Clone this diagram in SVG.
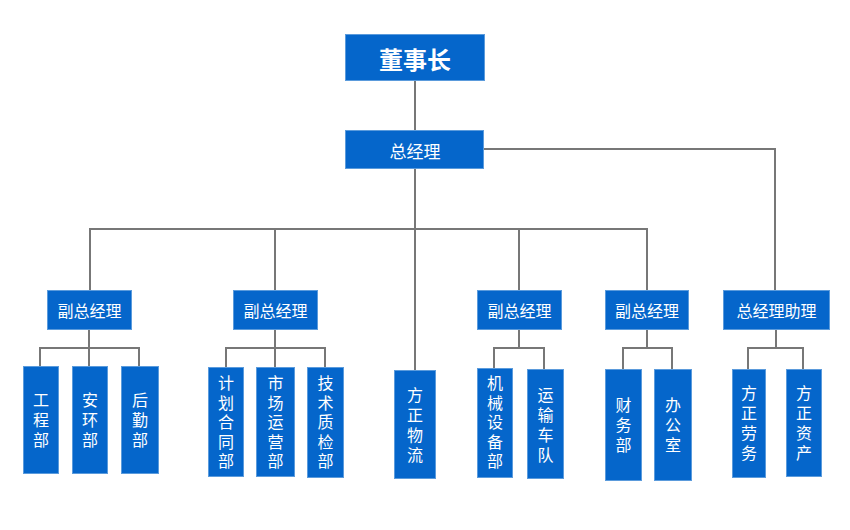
<svg xmlns="http://www.w3.org/2000/svg" width="850" height="530" viewBox="0 0 850 530">
<style>
.box{fill:#0566CB;stroke:#5B9BDC;stroke-width:1}
.t{fill:#fff;font-family:"Noto Sans CJK SC","Microsoft YaHei",sans-serif;text-anchor:middle;dominant-baseline:central}
.v{fill:#fff;font-family:"Noto Sans CJK SC","Microsoft YaHei",sans-serif;text-anchor:middle;font-size:16px;writing-mode:vertical-rl;text-orientation:upright;letter-spacing:4px}
.v5{letter-spacing:3.5px}
.c{fill:none;stroke:#777;stroke-width:2}
</style>
<rect width="850" height="530" fill="#fff"/>
<g id="connectors" class="c">
<path d="M415 80V130"/>
<path d="M415 168V370"/>
<path d="M483 149H775V290"/>
<path d="M90 290V229H647V290"/>
<path d="M275 229V290"/>
<path d="M519 229V290"/>
<path d="M89 329V348M40 366V348H139V366M89 348V366"/>
<path d="M275 329V348M226 367V348H325V367M275 348V367"/>
<path d="M519 329V348M494 368V348H544V369"/>
<path d="M647 329V348M623 369V348H672V369"/>
<path d="M776 329V348M748 369V348H803V369"/>
</g>
<g id="n-dsz"><rect class="box" x="345.500" y="34.500" width="139" height="46"/><text class="t" x="415" y="58" font-size="24" font-weight="bold">董事长</text></g>
<g id="n-zjl"><rect class="box" x="345.500" y="130.500" width="138" height="38"/><text class="t" x="415" y="150" font-size="17">总经理</text></g>
<g id="n-fz1"><rect class="box" x="47.500" y="290.500" width="84" height="39"/><text class="t" x="89.500" y="310" font-size="16">副总经理</text></g>
<g id="n-fz2"><rect class="box" x="233.500" y="290.500" width="84" height="39"/><text class="t" x="275.500" y="310" font-size="16">副总经理</text></g>
<g id="n-fz3"><rect class="box" x="477.500" y="290.500" width="84" height="39"/><text class="t" x="519.500" y="310" font-size="16">副总经理</text></g>
<g id="n-fz4"><rect class="box" x="605.500" y="290.500" width="83" height="39"/><text class="t" x="647" y="310" font-size="16">副总经理</text></g>
<g id="n-zl"><rect class="box" x="723.500" y="290.500" width="106" height="39"/><text class="t" x="776.500" y="310" font-size="16">总经理助理</text></g>
<g id="n-gcb"><rect class="box" x="23.500" y="366.500" width="35" height="107"/><text class="v" x="41" y="422">工程部</text></g>
<g id="n-ahb"><rect class="box" x="72.500" y="366.500" width="35" height="107"/><text class="v" x="90" y="422">安环部</text></g>
<g id="n-hqb"><rect class="box" x="121.500" y="366.500" width="37" height="107"/><text class="v" x="140" y="422">后勤部</text></g>
<g id="n-jh"><rect class="box" x="208.500" y="367.500" width="35" height="109"/><text class="v v5" x="226" y="424">计划合同部</text></g>
<g id="n-sc"><rect class="box" x="256.500" y="367.500" width="38" height="109"/><text class="v v5" x="275.500" y="424">市场运营部</text></g>
<g id="n-js"><rect class="box" x="307.500" y="367.500" width="36" height="110"/><text class="v v5" x="325.500" y="424">技术质检部</text></g>
<g id="n-wl"><rect class="box" x="394.500" y="370.500" width="41" height="108"/><text class="v" x="415" y="426.500">方正物流</text></g>
<g id="n-jx"><rect class="box" x="477.500" y="368.500" width="35" height="109"/><text class="v v5" x="495" y="424">机械设备部</text></g>
<g id="n-ys"><rect class="box" x="527.500" y="369.500" width="36" height="109"/><text class="v" x="545.500" y="426.500">运输车队</text></g>
<g id="n-cw"><rect class="box" x="605.500" y="369.500" width="36" height="111"/><text class="v" x="623.500" y="427">财务部</text></g>
<g id="n-bg"><rect class="box" x="654.500" y="369.500" width="37" height="111"/><text class="v" x="673" y="427">办公室</text></g>
<g id="n-lw"><rect class="box" x="732.500" y="369.500" width="33" height="108"/><text class="v" x="749" y="425">方正劳务</text></g>
<g id="n-zc"><rect class="box" x="786.500" y="369.500" width="35" height="107"/><text class="v" x="804" y="425">方正资产</text></g>
</svg>
